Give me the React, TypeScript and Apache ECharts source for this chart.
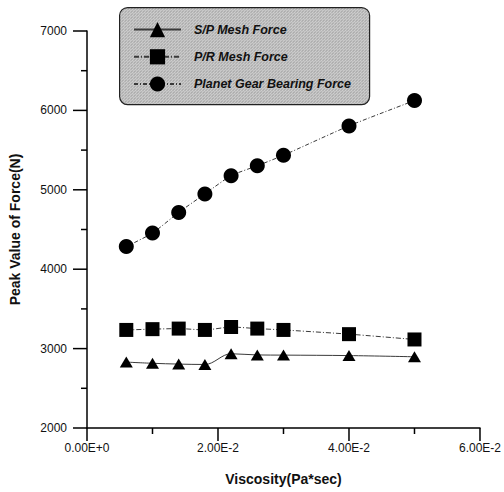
import React, { useEffect, useRef } from "react";
import * as echarts from "echarts";

// Viscosity sweep (Pa*sec) and peak force values (N)
const viscosity = [0.006, 0.01, 0.014, 0.018, 0.022, 0.026, 0.03, 0.04, 0.05];
const spMeshForce = [2830, 2815, 2805, 2800, 2935, 2920, 2918, 2912, 2897];
const prMeshForce = [3235, 3245, 3252, 3235, 3272, 3252, 3235, 3182, 3115];
const planetBearingForce = [4285, 4455, 4715, 4948, 5178, 5303, 5435, 5805, 6124];

const seriesNames = ["S/P Mesh Force", "P/R Mesh Force", "Planet Gear Bearing Force"];

// Axis ranges and tick positions
const xMin = 0;
const xMax = 0.06;
const xStep = 0.02;
const yMin = 2000;
const yMax = 7000;
const yStep = 1000;
const xMajorTicks = [0, 0.02, 0.04, 0.06];
const xMinorTicks = [0.01, 0.03, 0.05];
const yMajorTicks = [2000, 3000, 4000, 5000, 6000, 7000];
const yMinorTicks = [2500, 3500, 4500, 5500, 6500];

const FONT = "'Liberation Sans', Arial, sans-serif";

function zip(xs: number[], ys: number[]) {
  return xs.map((x, i) => [x, ys[i]]);
}

function sciLabel(v: number) {
  return v.toExponential(2).replace("e", "E");
}

function halftone(): string {
  const c = document.createElement("canvas");
  c.width = 3;
  c.height = 3;
  const ctx = c.getContext("2d");
  if (!ctx) return "#c8c8c8";
  ctx.fillStyle = "#d6d6d6";
  ctx.fillRect(0, 0, 3, 3);
  ctx.fillStyle = "#7e7e7e";
  ctx.fillRect(0, 0, 1, 1);
  ctx.fillRect(2, 1, 1, 1);
  ctx.fillStyle = "#a8a8a8";
  ctx.fillRect(1, 2, 1, 1);
  return c.toDataURL();
}

export default function App() {
  const ref = useRef<HTMLDivElement>(null);

  useEffect(() => {
    if (!ref.current) return;
    const chart = echarts.init(ref.current, null, { renderer: "svg" });
    const pattern = halftone();
    const boxFill: any =
      pattern.startsWith("data:")
        ? { image: pattern, repeat: "repeat", imageWidth: 3, imageHeight: 3 }
        : pattern;

    // Outward tick marks: [x, y, length, side] where side 0 = x axis, 1 = y axis
    const tickData = [
      ...xMajorTicks.map((v) => [v, yMin, 13, 0]),
      ...xMinorTicks.map((v) => [v, yMin, 6, 0]),
      ...yMajorTicks.map((v) => [xMin, v, 14, 1]),
      ...yMinorTicks.map((v) => [xMin, v, 6, 1]),
    ];

    const lineColor = "#3a3a3a";
    chart.setOption({
      animation: false,
      backgroundColor: "#ffffff",
      grid: { left: 87, right: 21, top: 31, bottom: 64 },
      graphic: [
        {
          type: "rect",
          left: 119,
          top: 7,
          z: 0,
          shape: { width: 250, height: 97, r: 8 },
          style: { fill: boxFill, stroke: "#222", lineWidth: 1.2 },
        },
      ],
      legend: {
        data: seriesNames,
        orient: "vertical",
        left: 133,
        top: 22,
        padding: 0,
        itemGap: 12,
        itemWidth: 47,
        itemHeight: 19,
        z: 10,
        textStyle: {
          fontFamily: FONT,
          fontSize: 12.5,
          fontWeight: "bold",
          fontStyle: "italic",
          color: "#111",
          padding: [0, 0, 0, 8],
        },
      },
      xAxis: {
        type: "value",
        min: xMin,
        max: xMax,
        interval: xStep,
        name: "Viscosity(Pa*sec)",
        nameLocation: "middle",
        nameGap: 44,
        nameTextStyle: { fontFamily: FONT, fontSize: 14, fontWeight: "bold", color: "#111" },
        axisLine: { show: true, onZero: false, lineStyle: { color: "#000", width: 1.5 } },
        axisTick: { show: false },
        axisLabel: {
          margin: 14,
          fontFamily: FONT,
          fontSize: 12,
          color: "#111",
          formatter: (v: number) => sciLabel(v),
        },
        splitLine: { show: false },
      },
      yAxis: {
        type: "value",
        min: yMin,
        max: yMax,
        interval: yStep,
        name: "Peak Value of Force(N)",
        nameLocation: "middle",
        nameGap: 65,
        nameTextStyle: { fontFamily: FONT, fontSize: 14, fontWeight: "bold", color: "#111" },
        axisLine: { show: true, onZero: false, lineStyle: { color: "#000", width: 1.5 } },
        axisTick: { show: false },
        axisLabel: {
          margin: 20,
          fontFamily: FONT,
          fontSize: 12,
          color: "#111",
          formatter: (v: number) => String(v),
        },
        splitLine: { show: false },
      },
      series: [
        {
          name: seriesNames[0],
          type: "line",
          data: zip(viscosity, spMeshForce),
          symbol: "triangle",
          symbolSize: [13, 11],
          smooth: 0.35,
          itemStyle: { color: "#000" },
          lineStyle: { color: lineColor, width: 1, type: "solid" },
        },
        {
          name: seriesNames[1],
          type: "line",
          data: zip(viscosity, prMeshForce),
          symbol: "rect",
          symbolSize: 14,
          smooth: 0.2,
          itemStyle: { color: "#000" },
          lineStyle: { color: lineColor, width: 1, type: [5, 2, 1, 2] },
        },
        {
          name: seriesNames[2],
          type: "line",
          data: zip(viscosity, planetBearingForce),
          symbol: "circle",
          symbolSize: 15,
          smooth: 0.2,
          itemStyle: { color: "#000" },
          lineStyle: { color: lineColor, width: 1, type: [4, 2, 1, 2] },
        },
        {
          name: "axis ticks",
          type: "custom",
          silent: true,
          clip: false,
          z: 5,
          encode: { x: 0, y: 1 },
          data: tickData,
          renderItem: (_params: any, api: any) => {
            const p = api.coord([api.value(0), api.value(1)]);
            const len = api.value(2);
            const onY = api.value(3) === 1;
            return {
              type: "line",
              shape: onY
                ? { x1: p[0] - len, y1: p[1], x2: p[0], y2: p[1] }
                : { x1: p[0], y1: p[1], x2: p[0], y2: p[1] + len },
              style: { stroke: "#000", lineWidth: 1.5 },
            };
          },
        },
      ],
    });

    return () => chart.dispose();
  }, []);

  return (
    <div
      ref={ref}
      style={{ position: "fixed", left: 0, top: 0, width: 504, height: 492, background: "#fff" }}
    />
  );
}
